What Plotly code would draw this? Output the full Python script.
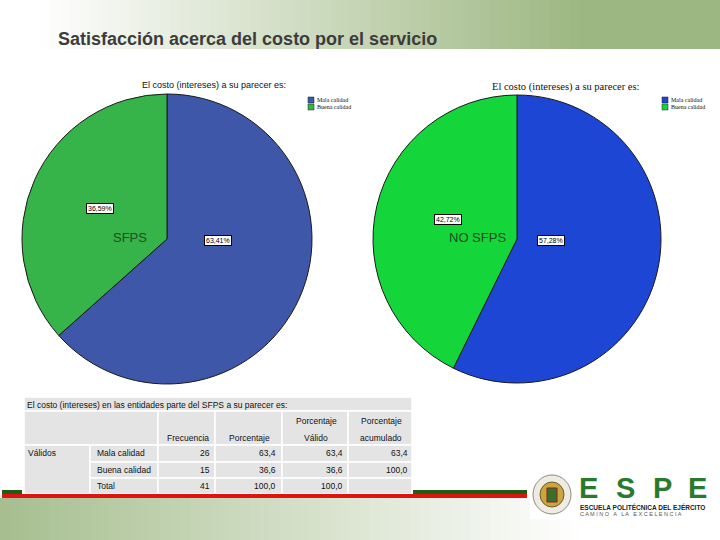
import plotly.graph_objects as go

W, H = 720, 540


def px(x):
    return x / W


def py(y):
    return 1 - y / H


# ---------------- data ----------------
slide_title = "Satisfacción acerca del costo por el servicio"
pie_title = "El costo (intereses) a su parecer es:"
categories = ["Mala calidad", "Buena calidad"]
sfps_pct = [63.41, 36.59]
no_sfps_pct = [57.28, 42.72]
group_labels = ["SFPS", "NO SFPS"]

table_title = "El costo (intereses) en las entidades parte del SFPS a su parecer es:"
header_top = ["", "", "Porcentaje", "Porcentaje"]
header_bottom = ["Frecuencia", "Porcentaje", "Válido", "acumulado"]
row_group = "Válidos"
row_labels = ["Mala calidad", "Buena calidad", "Total"]
frecuencia = ["26", "15", "41"]
porcentaje = ["63,4", "36,6", "100,0"]
pct_valido = ["63,4", "36,6", "100,0"]
pct_acum = ["63,4", "100,0", ""]

logo_letters = ["E", "S", "P", "E"]
logo_line1 = "ESCUELA POLITÉCNICA DEL EJÉRCITO"
logo_line2 = "C A M I N O   A   L A   E X C E L E N C I A"

# ---------------- styles ----------------
left_colors = ["#3F57A9", "#36B44A"]
right_colors = ["#1D46D4", "#14D63B"]

fig = go.Figure()

fig.add_trace(go.Pie(
    values=sfps_pct, labels=categories, sort=False, direction="clockwise",
    rotation=0, textinfo="none", hoverinfo="label+percent",
    marker=dict(colors=left_colors, line=dict(color="#1a1a1a", width=1)),
    domain=dict(x=[px(22), px(312)], y=[py(385), py(93)]),
    showlegend=False,
))
fig.add_trace(go.Pie(
    values=no_sfps_pct, labels=categories, sort=False, direction="clockwise",
    rotation=0, textinfo="none", hoverinfo="label+percent",
    marker=dict(colors=right_colors, line=dict(color="#1a1a1a", width=1)),
    domain=dict(x=[px(373), px(661)], y=[py(385), py(93)]),
    showlegend=False,
))

shapes = []
ann = []


def add_text(text, x, y, font, xanchor="center", **kw):
    d = dict(text=text, x=px(x), y=py(y), xref="paper", yref="paper",
             xanchor=xanchor, yanchor="middle", showarrow=False, font=font)
    d.update(kw)
    ann.append(d)


def lerp(c1, c2, t):
    return "rgb(%d,%d,%d)" % tuple(round(a + (b - a) * t) for a, b in zip(c1, c2))


# top banner gradient
N = 72
white = (255, 255, 255)
green_top = (157, 183, 130)
for i in range(N):
    x0 = i * W / N
    x1 = (i + 1) * W / N + 0.5
    t = min(1, max(0, ((x0 + x1) / 2 - 40) / 540))
    shapes.append(dict(type="rect", xref="paper", yref="paper", layer="below",
                       x0=px(x0), x1=px(x1), y0=py(49), y1=py(0),
                       fillcolor=lerp(white, green_top, t), line=dict(width=0)))
# bottom banner gradient
green_bot = (166, 190, 142)
for i in range(N):
    x0 = i * W / N
    x1 = (i + 1) * W / N + 0.5
    t = min(1, max(0, ((x0 + x1) / 2) / 580))
    shapes.append(dict(type="rect", xref="paper", yref="paper", layer="below",
                       x0=px(x0), x1=px(x1), y0=py(540), y1=py(498),
                       fillcolor=lerp(green_bot, white, t), line=dict(width=0)))

# slide title
add_text("<b>" + slide_title + "</b>", 56, 39,
         dict(family="Liberation Sans, Arial", size=18, color="#3c3c3c"), xanchor="left")

# pie titles & legends
for (tx, ty, lx, ly, cols, fam, fs) in [(140, 85, 308, 97, left_colors, "Liberation Sans, Arial", 9),
                                        (490, 87, 662, 97, right_colors, "Liberation Serif, serif", 10.5)]:
    add_text(pie_title, tx, ty, dict(family=fam, size=fs, color="#111"), xanchor="left")
    for k, (cat, c) in enumerate(zip(categories, cols)):
        yy = ly + k * 7
        shapes.append(dict(type="rect", xref="paper", yref="paper",
                           x0=px(lx), x1=px(lx + 6), y0=py(yy + 6), y1=py(yy),
                           fillcolor=c, line=dict(color="#222", width=0.5)))
        add_text(cat, lx + 7, yy + 3, dict(family="Liberation Serif, serif", size=6, color="#111"),
                 xanchor="left")

# percentage labels
label_pos = [[(218, 240), (100, 208)], [(551, 240), (448, 219)]]
for vals, pos in zip([sfps_pct, no_sfps_pct], label_pos):
    for v, (lx, ly) in zip(vals, pos):
        add_text(("%.2f%%" % v).replace(".", ","), lx, ly,
                 dict(family="Liberation Sans, Arial", size=7, color="#000"),
                 bgcolor="white", bordercolor="#000", borderwidth=1, borderpad=1)

# group labels
for g, (gx, gy) in zip(group_labels, [(130, 237), (477, 237)]):
    add_text(g, gx, gy, dict(family="Liberation Sans, Arial", size=13, color="#1e4d1e"))

# ---------------- table ----------------
cell_fill = "#E4E4E4"
tf = dict(family="Liberation Sans, Arial", size=8.5, color="#111")
cols_x = [24, 90, 158, 215, 282, 348, 412]
rows_y = [411, 445, 462, 478, 494]


def cell(x0, y0, x1, y1):
    shapes.append(dict(type="rect", xref="paper", yref="paper",
                       x0=px(x0), x1=px(x1), y0=py(y1), y1=py(y0),
                       fillcolor=cell_fill, line=dict(color="white", width=1.5)))


cell(24, 397, 412, 411)  # title row
cell(cols_x[0], rows_y[0], cols_x[2], rows_y[1])  # header merged
for c in range(2, 6):
    cell(cols_x[c], rows_y[0], cols_x[c + 1], rows_y[1])
cell(cols_x[0], rows_y[1], cols_x[1], rows_y[4])  # Válidos merged
for r in range(3):
    for c in range(1, 6):
        cell(cols_x[c], rows_y[r + 1], cols_x[c + 1], rows_y[r + 2])

add_text(table_title, 25, 405, tf, xanchor="left")
hdr_cx = [188, 249, 316, 381]
for c in range(4):
    if header_top[c]:
        add_text(header_top[c], hdr_cx[c], 421, tf)
    add_text(header_bottom[c], hdr_cx[c], 438, tf)
add_text(row_group, 26, 453, tf, xanchor="left")
row_cy = [453, 470, 486]
val_right = [212, 278, 345, 410]
for r in range(3):
    add_text(row_labels[r], 95, row_cy[r], tf, xanchor="left")
    for c, col in enumerate([frecuencia, porcentaje, pct_valido, pct_acum]):
        if col[r]:
            add_text(col[r], val_right[c], row_cy[r], tf, xanchor="right")

# bottom lines
shapes.append(dict(type="rect", xref="paper", yref="paper", x0=px(2), x1=px(22),
                   y0=py(494), y1=py(490), fillcolor="#1F5E12", line=dict(width=0)))
shapes.append(dict(type="rect", xref="paper", yref="paper", x0=px(413), x1=px(527),
                   y0=py(494), y1=py(490), fillcolor="#1F5E12", line=dict(width=0)))
shapes.append(dict(type="rect", xref="paper", yref="paper", x0=px(2), x1=px(527),
                   y0=py(498), y1=py(494), fillcolor="#E0140F", line=dict(width=0)))

# logo
shapes.append(dict(type="rect", xref="paper", yref="paper", x0=px(530), x1=px(713),
                   y0=py(519), y1=py(468), fillcolor="white", line=dict(width=0)))
shapes.append(dict(type="circle", xref="paper", yref="paper", x0=px(533), x1=px(571),
                   y0=py(514), y1=py(475), fillcolor="#EDEBE3", line=dict(color="#8a8a7a", width=1)))
shapes.append(dict(type="circle", xref="paper", yref="paper", x0=px(540), x1=px(564),
                   y0=py(507), y1=py(482), fillcolor="#C9A640", line=dict(color="#6b5a20", width=1)))
shapes.append(dict(type="rect", xref="paper", yref="paper", x0=px(547), x1=px(557),
                   y0=py(502), y1=py(488), fillcolor="#3C6E2C", line=dict(color="#8a2020", width=1)))
for letter, lx in zip(logo_letters, [588, 625, 662, 697]):
    add_text("<b>" + letter + "</b>", lx, 488,
             dict(family="Liberation Sans Narrow, Liberation Sans, Arial", size=29, color="#2A7A2E"))
add_text("<b>" + logo_line1 + "</b>", 578, 507,
         dict(family="Liberation Sans Narrow, Liberation Sans, Arial", size=6.5, color="#222"),
         xanchor="left")
add_text(logo_line2, 578, 514, dict(family="Liberation Sans, Arial", size=5.5, color="#555"),
         xanchor="left")

fig.update_layout(
    width=W, height=H, margin=dict(l=0, r=0, t=0, b=0),
    paper_bgcolor="white", plot_bgcolor="white",
    shapes=shapes, annotations=ann,
)

fig.write_html("out.html")
